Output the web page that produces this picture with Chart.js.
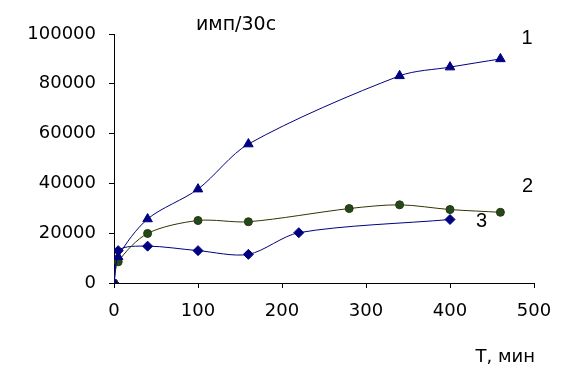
<!DOCTYPE html>
<html><head><meta charset="utf-8">
<script src="https://cdn.jsdelivr.net/npm/chart.js@4/dist/chart.umd.min.js"></script>
<style>html,body{margin:0;padding:0;background:#fff}#wrap{width:580px;height:374px}</style>
</head><body><div id="wrap"><canvas id="c" width="580" height="374"></canvas></div>
<script>
const xTicks = [0, 100, 200, 300, 400, 500];
const yTicks = [0, 20000, 40000, 60000, 80000, 100000];
const t1 = [0, 5, 40, 100, 160, 340, 400, 460];
const s1 = [0, 10500, 25700, 37700, 55800, 83200, 86700, 90000];
const t2 = [0, 5, 40, 100, 160, 280, 340, 400, 460];
const s2 = [0, 8500, 19900, 25100, 24600, 29900, 31400, 29500, 28400];
const t3 = [0, 5, 40, 100, 160, 220, 400];
const s3 = [0, 13000, 14800, 13000, 11500, 20200, 25500];
const seriesLabels = ['1', '2', '3'];
const yTitle = 'имп/30с';
const xTitle = 'T, мин';

const pts = (t, s) => t.map((v, i) => ({x: v, y: s[i]}));
const TFONT = '"DejaVu Sans", sans-serif';
const LFONT = '"Liberation Sans", Arial, sans-serif';

const textPlugin = {
  id: 'texts',
  afterDraw(chart) {
    const ctx = chart.ctx;
    ctx.save();
    ctx.fillStyle = '#000';
    ctx.textBaseline = 'alphabetic';
    ctx.textAlign = 'left';
    ctx.font = '19px ' + TFONT;
    ctx.fillText(yTitle, 196, 30);
    ctx.textAlign = 'center';
    ctx.font = '20px ' + LFONT;
    ctx.fillText(seriesLabels[0], 527, 44);
    ctx.fillText(seriesLabels[1], 527.5, 192);
    ctx.fillText(seriesLabels[2], 481.5, 227);
    ctx.textAlign = 'right';
    ctx.font = '18px ' + TFONT;
    ctx.fillText(xTitle, 535, 362);
    ctx.restore();
  }
};

new Chart(document.getElementById('c'), {
  type: 'scatter',
  data: {
    datasets: [
      {label: seriesLabels[0], data: pts(t1, s1), showLine: true, tension: 0.3,
       borderColor: '#000080', backgroundColor: '#000080', borderWidth: 1,
       pointStyle: 'triangle', pointRadius: 5.5, pointBorderWidth: 1},
      {label: seriesLabels[1], data: pts(t2, s2), showLine: true, tension: 0.3,
       borderColor: '#333300', backgroundColor: '#1f4a1f', borderWidth: 1,
       pointStyle: 'circle', pointRadius: 4, pointBorderColor: '#333300', pointBorderWidth: 1},
      {label: seriesLabels[2], data: pts(t3, s3), showLine: true, tension: 0.3,
       borderColor: '#000080', backgroundColor: '#000080', borderWidth: 1,
       pointStyle: 'rectRot', pointRadius: 5, pointBorderWidth: 1}
    ]
  },
  options: {
    responsive: false,
    animation: false,
    layout: {padding: {top: 34, right: 46, left: 0, bottom: 0}},
    plugins: {legend: {display: false}, tooltip: {enabled: false}},
    scales: {
      x: {
        type: 'linear', min: 0, max: 500,
        afterBuildTicks(s) { s.ticks = xTicks.map(v => ({value: v})); },
        afterFit(s) { s.height = 91; },
        border: {display: true, color: '#000', width: 1},
        grid: {drawOnChartArea: false, drawTicks: true, tickLength: 5, color: '#000'},
        ticks: {color: '#000', font: {family: TFONT, size: 18}, padding: 13, maxRotation: 0}
      },
      y: {
        type: 'linear', min: 0, max: 100000,
        afterBuildTicks(s) { s.ticks = yTicks.map(v => ({value: v})); },
        afterFit(s) { s.width = 114; },
        border: {display: true, color: '#000', width: 1},
        grid: {drawOnChartArea: false, drawTicks: true, tickLength: 5, color: '#000'},
        ticks: {color: '#000', font: {family: TFONT, size: 18}, padding: 13,
                callback: v => String(v)}
      }
    }
  },
  plugins: [textPlugin]
});
</script></body></html>
